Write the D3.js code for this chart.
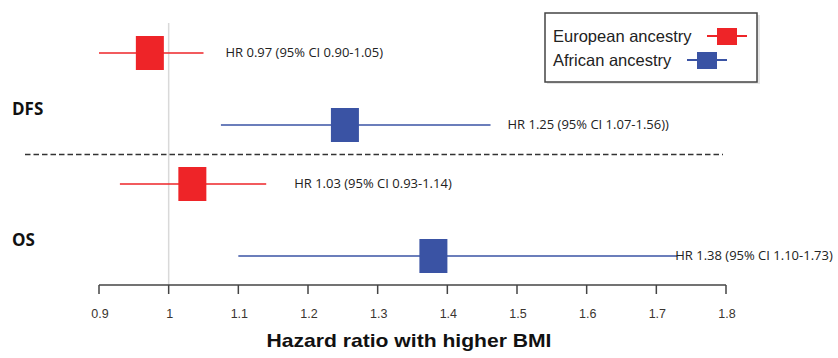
<!DOCTYPE html>
<html>
<head>
<meta charset="utf-8">
<script src="https://cdn.jsdelivr.net/npm/d3@7"></script>
<style>
  body { margin: 0; background: #fff; }
  svg { display: block; }
</style>
</head>
<body>
<svg id="chart"></svg>
<script>
// values
var groups   = ['DFS', 'DFS', 'OS', 'OS'];
var ancestry = ['European ancestry', 'African ancestry', 'European ancestry', 'African ancestry'];
var hr       = [0.973, 1.253, 1.034, 1.38];
var ciLow    = [0.90, 1.075, 0.93, 1.10];
var ciHigh   = [1.05, 1.462, 1.14, 1.73];   // as drawn (the 1.56 line stops near 1.46)
var hrLabels = [
    'HR 0.97 (95% CI 0.90-1.05)',
    'HR 1.25 (95% CI 1.07-1.56))',
    'HR 1.03 (95% CI 0.93-1.14)',
    'HR 1.38 (95% CI 1.10-1.73)'
];
var ticks = [0.9, 1.0, 1.1, 1.2, 1.3, 1.4, 1.5, 1.6, 1.7, 1.8];
var tickLabels = ['0.9', '1', '1.1', '1.2', '1.3', '1.4', '1.5', '1.6', '1.7', '1.8'];
var legendNames = ['European ancestry', 'African ancestry'];

var W = 838, H = 358;
var colors = {'European ancestry': '#ee2428', 'African ancestry': '#3a53a4'};

var svg = d3.select('#chart').attr('width', W).attr('height', H);

var x = d3.scaleLinear().domain([0.9, 1.8]).range([99, 726]);

// row position = group position + ancestry offset
var yGroup = d3.scaleOrdinal().domain(['DFS', 'OS']).range([53, 184]);
var yAnc = d3.scaleOrdinal().domain(legendNames).range([0, 72]);

var rows = hr.map(function(d, i) {
    return {group: groups[i], anc: ancestry[i], hr: d, lo: ciLow[i], hi: ciHigh[i], label: hrLabels[i],
            y: yGroup(groups[i]) + yAnc(ancestry[i])};
});

// reference line at HR = 1
svg.append('line')
    .attr('x1', x(1)).attr('x2', x(1))
    .attr('y1', 23).attr('y2', 285)
    .attr('stroke', '#d9d9d9').attr('stroke-width', 1.5);

// dashed separator
svg.append('line')
    .attr('x1', 25).attr('x2', 723)
    .attr('y1', 154.5).attr('y2', 154.5)
    .attr('stroke', '#333').attr('stroke-width', 1.5)
    .attr('stroke-dasharray', '5.5,3');

// group labels
svg.selectAll('.grp')
    .data(['DFS', 'OS'])
    .enter().append('text')
    .attr('x', 12)
    .attr('y', function(d) { return yGroup(d) + 57; })
    .attr('dominant-baseline', 'middle')
    .attr('font-family', '"Open Sans", "Noto Sans", sans-serif')
    .attr('font-weight', 'bold')
    .attr('font-size', '17px')
    .attr('fill', '#111')
    .text(function(d) { return d; });

// confidence intervals
svg.selectAll('.ci')
    .data(rows)
    .enter().append('line')
    .attr('x1', function(d) { return x(d.lo); })
    .attr('x2', function(d) { return x(d.hi); })
    .attr('y1', function(d) { return d.y; })
    .attr('y2', function(d) { return d.y; })
    .attr('stroke', function(d) { return colors[d.anc]; })
    .attr('stroke-width', 1.5);

// point estimates
var bw = 28, bh = 34;
svg.selectAll('.box')
    .data(rows)
    .enter().append('rect')
    .attr('x', function(d) { return x(d.hr) - bw / 2; })
    .attr('y', function(d) { return d.y - bh / 2; })
    .attr('width', bw).attr('height', bh)
    .attr('fill', function(d) { return colors[d.anc]; });

// HR text
var labelOffset = [22, 17, 28, -2];
svg.selectAll('.hrlab')
    .data(rows)
    .enter().append('text')
    .attr('x', function(d, i) { return x(d.hi) + labelOffset[i]; })
    .attr('y', function(d) { return d.y + 1; })
    .attr('dominant-baseline', 'middle')
    .attr('font-family', '"Open Sans", "Noto Sans", sans-serif')
    .attr('font-size', '13px')
    .attr('fill', '#222')
    .text(function(d) { return d.label; });

// x axis
var axisY = 285;
svg.append('line')
    .attr('x1', x(0.9)).attr('x2', x(1.8))
    .attr('y1', axisY).attr('y2', axisY)
    .attr('stroke', '#444').attr('stroke-width', 1.5);

svg.selectAll('.tick')
    .data(ticks)
    .enter().append('line')
    .attr('x1', function(d) { return x(d); })
    .attr('x2', function(d) { return x(d); })
    .attr('y1', axisY).attr('y2', axisY + 9)
    .attr('stroke', '#444').attr('stroke-width', 1.5);

svg.selectAll('.ticklab')
    .data(ticks)
    .enter().append('text')
    .attr('x', function(d) { return x(d) + 1; })
    .attr('y', 318)
    .attr('text-anchor', 'middle')
    .attr('font-family', '"Liberation Sans Narrow", "Liberation Sans", Arial, sans-serif')
    .attr('font-size', '12.5px')
    .attr('fill', '#3a3530')
    .text(function(d, i) { return tickLabels[i]; });

svg.append('text')
    .attr('x', 409)
    .attr('y', 347)
    .attr('text-anchor', 'middle')
    .attr('font-family', '"Liberation Sans", Arial, sans-serif')
    .attr('font-weight', 'bold')
    .attr('font-size', '19px')
    .attr('textLength', 285)
    .attr('lengthAdjust', 'spacingAndGlyphs')
    .attr('fill', '#111')
    .text('Hazard ratio with higher BMI');

// legend
var lg = svg.append('g');
lg.append('rect')
    .attr('x', 547).attr('y', 15).attr('width', 213).attr('height', 69)
    .attr('fill', '#e6e6e6');
lg.append('rect')
    .attr('x', 545).attr('y', 13).attr('width', 212).attr('height', 69)
    .attr('fill', '#fff').attr('stroke', '#444').attr('stroke-width', 1.5);

var legendText = [553, 553];
var legendSym = [727, 707];
legendNames.forEach(function(name, i) {
    var ly = 36 + i * 24;
    lg.append('text')
        .attr('x', legendText[i]).attr('y', ly + 6)
        .attr('font-family', '"Liberation Sans", Arial, sans-serif')
        .attr('font-size', '16.5px')
        .attr('fill', '#222')
        .text(name);
    lg.append('line')
        .attr('x1', legendSym[i] - 20).attr('x2', legendSym[i] + 20)
        .attr('y1', ly).attr('y2', ly)
        .attr('stroke', colors[name]).attr('stroke-width', 2);
    lg.append('rect')
        .attr('x', legendSym[i] - 10).attr('y', ly - 8)
        .attr('width', 20).attr('height', 17)
        .attr('fill', colors[name]);
});
</script>
</body>
</html>
